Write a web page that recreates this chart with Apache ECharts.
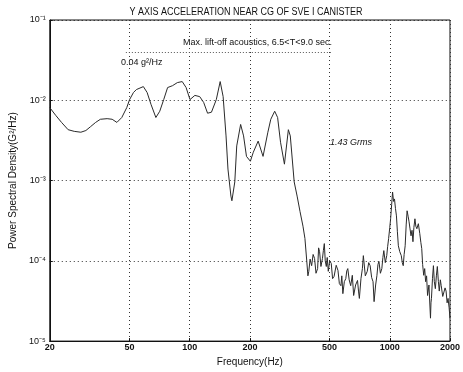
<!DOCTYPE html>
<html>
<head>
<meta charset="utf-8">
<script src="https://cdn.jsdelivr.net/npm/echarts@6/dist/echarts.min.js"></script>
<style>
html,body{margin:0;padding:0;background:#fff;}
#c{width:463px;height:372px;}
</style>
</head>
<body>
<div id="c"></div>
<script>
// Frequency (Hz) of each read-off point
const freq = [
  20, 21.4, 22.9, 24.7, 26.5, 28.6, 30.3, 32.0, 33.9, 35.8, 38.7, 41.0, 43.3, 45.8, 48.5,
  50.1, 52.4, 54.2, 58.7, 61.3, 64.1, 67.8, 70.9, 74.2, 77.6, 82.1, 86.8, 91.8, 96.0,
  100.4, 106.2, 112.3, 117.5, 122.9, 128.5, 135.9, 142.1, 147.0, 152.0, 155.4, 160.8, 162.6,
  168.1, 171.9, 179.8, 186.0, 192.3, 201.1, 208.0, 220.0, 232.7, 246.0, 254.4, 266.1, 275.2,
  284.6, 297.6, 311.4, 318.4, 333.0, 344.4, 356.2, 368.4, 376.8,
  385, 390, 394, 400, 407, 414, 421, 428, 436, 441, 446, 453, 461, 466, 471, 476, 482, 487, 493, 501,
  510, 518, 527, 540, 551, 560, 570, 576, 583, 593, 603, 610, 617, 627, 638, 650, 660, 675, 690, 698,
  705, 718, 730, 738, 755, 772, 785, 798, 812, 825, 835, 850, 863, 873, 883, 898, 913, 924, 934, 950,
  966, 976, 987, 1000, 1010, 1022, 1033, 1045, 1056, 1068, 1080, 1092, 1104, 1122, 1142, 1155, 1168,
  1180, 1194, 1208, 1221, 1235, 1249, 1263, 1277, 1292, 1306, 1320, 1336, 1350, 1366, 1390, 1413,
  1430, 1445, 1460, 1478, 1495, 1511, 1528, 1545, 1570, 1598, 1607, 1616, 1635, 1653, 1670, 1690,
  1710, 1729, 1750, 1768, 1790, 1808, 1840, 1870, 1890, 1912, 1935, 1956, 1980, 2000
];
// Power spectral density (G^2/Hz) at those frequencies
const psd = [
  0.0081, 0.0065, 0.0053, 0.0043, 0.0041, 0.0040, 0.0042, 0.0047, 0.0053, 0.0058, 0.0059, 0.0058, 0.0053, 0.0061, 0.0081,
  0.0102, 0.0125, 0.0136, 0.0148, 0.0125, 0.0089, 0.0061, 0.0073, 0.0102, 0.0144, 0.0152, 0.0166, 0.0171, 0.0144,
  0.0102, 0.0115, 0.0111, 0.0094, 0.0069, 0.0071, 0.0102, 0.0171, 0.0111, 0.0036, 0.00139, 0.00064, 0.00056,
  0.00096, 0.0027, 0.0050, 0.0036, 0.0020, 0.00174, 0.00225, 0.0031, 0.0020, 0.0040, 0.0058, 0.0073, 0.0061,
  0.0030, 0.0016, 0.0043, 0.0036, 0.00096, 0.00064, 0.00041, 0.00027, 0.00019,
  9.8e-5, 6.5e-5, 7.4e-5, 1.05e-4, 8.7e-5, 1.2e-4, 1.07e-4, 7.0e-5, 8.0e-5, 1.45e-4, 1.30e-4, 8.5e-5, 1.07e-4, 1.35e-4, 1.64e-4, 1.0e-4, 8.5e-5, 1.1e-4, 7.4e-5, 1.0e-4,
  9.3e-5, 6.0e-5, 6.4e-5, 8.8e-5, 7.6e-5, 5.2e-5, 4.9e-5, 6.5e-5, 3.9e-5, 5.5e-5, 6.0e-5, 7.5e-5, 8.0e-5, 5.8e-5, 4.9e-5, 6.6e-5, 3.7e-5, 5.0e-5, 5.7e-5, 4.2e-5,
  3.4e-5, 6.0e-5, 8.0e-5, 1.16e-4, 6.5e-5, 7.4e-5, 9.5e-5, 8.7e-5, 6.2e-5, 5.5e-5, 3.1e-5, 5.0e-5, 6.6e-5, 9.0e-5, 9.8e-5, 7.0e-5, 8.0e-5, 1.1e-4, 1.34e-4, 9.5e-5,
  1.16e-4, 1.5e-4, 1.89e-4, 2.6e-4, 3.34e-4, 5.0e-4, 7.2e-4, 5.5e-4, 5.9e-4, 4.5e-4, 3.63e-4, 2.3e-4, 1.54e-4, 1.3e-4, 1.16e-4, 9.5e-5, 8.7e-5,
  1.2e-4, 1.54e-4, 2.8e-4, 4.2e-4, 3.6e-4, 3.06e-4, 2.5e-4, 2.05e-4, 2.4e-4, 1.73e-4, 2.6e-4, 3.34e-4, 2.7e-4, 2.51e-4, 2.9e-4, 2.18e-4,
  1.7e-4, 1.42e-4, 9.0e-5, 6.6e-5, 8.0e-5, 5.5e-5, 6.5e-5, 3.7e-5, 5.0e-5, 1.93e-5, 3.0e-5, 3.4e-5, 6.0e-5, 8.7e-5, 5.5e-5, 4.5e-5,
  6.5e-5, 8.5e-5, 5.5e-5, 4.2e-5, 5.8e-5, 4.9e-5, 3.6e-5, 3.4e-5, 4.6e-5, 4.2e-5, 3.0e-5, 3.4e-5, 2.6e-5, 1.93e-5
];
const xTicks = [20, 50, 100, 200, 500, 1000, 2000];
const yTicks = [1e-5, 1e-4, 1e-3, 1e-2, 1e-1];
const yTickLabels = ['10\u207B\u2075', '10\u207B\u2074', '10\u207B\u00B3', '10\u207B\u00B2', '10\u207B\u00B9'];
const refLevel = 0.04;           // g^2/Hz reference line
const refRange = [48, 515];      // Hz span of reference line

const titleText = 'Y AXIS ACCELERATION NEAR CG OF SVE I CANISTER';
const noteText = 'Max. lift-off acoustics, 6.5<T<9.0 sec.';
const refText = '0.04 g\u00B2/Hz';
const rmsText = '1.43 Grms';

const font = '"Liberation Sans", Arial, sans-serif';
const chart = echarts.init(document.getElementById('c'));
const data = freq.map((f, i) => [f, psd[i]]);

chart.setOption({
  animation: false,
  backgroundColor: '#fff',
  grid: {left: 41, right: 11, top: 20, bottom: 29, show: true, borderColor: '#111', borderWidth: 1},
  xAxis: {
    type: 'log', logBase: 10, min: 20, max: 2000,
    name: 'Frequency(Hz)', nameLocation: 'middle', nameGap: 14,
    nameTextStyle: {fontFamily: font, fontSize: 10, color: '#111'},
    axisLine: {lineStyle: {color: '#111'}},
    axisTick: {show: true, inside: true, length: 3, customValues: xTicks, lineStyle: {color: '#111'}},
    axisLabel: {customValues: xTicks, margin: 2, fontFamily: font, fontSize: 9, color: '#111', fontWeight: 'bold',
      formatter: v => String(Math.round(v))},
    splitLine: {show: true, lineStyle: {type: [1, 3], color: '#333', width: 1}},
    minorTick: {show: false}
  },
  yAxis: {
    type: 'log', logBase: 10, min: 1e-5, max: 1e-1,
    name: 'Power Spectral Density(G\u00B2/Hz)', nameLocation: 'middle', nameGap: 27,
    nameTextStyle: {fontFamily: font, fontSize: 10, color: '#111'},
    axisLine: {lineStyle: {color: '#111'}},
    axisTick: {show: true, inside: true, length: 3, lineStyle: {color: '#111'}},
    axisLabel: {
      margin: 4, fontFamily: font, fontSize: 9, color: '#111',
      formatter: v => { const i = yTicks.findIndex(t => Math.abs(Math.log10(t) - Math.log10(v)) < 0.01); return i >= 0 ? yTickLabels[i] : ''; }
    },
    splitLine: {show: true, lineStyle: {type: [1, 3], color: '#333', width: 1}}
  },
  series: [{
    type: 'line', data: data, symbol: 'none', smooth: false,
    lineStyle: {color: '#2a2a2a', width: 1},
    markLine: {
      silent: true, symbol: 'none', label: {show: false},
      lineStyle: {type: [1, 2], color: '#555', width: 1},
      data: [[{coord: [refRange[0], refLevel]}, {coord: [refRange[1], refLevel]}]]
    }
  }],
  graphic: [
    {type: 'text', x: 246, y: 12, scaleX: 0.9,
      style: {text: titleText, font: '10px ' + font, fill: '#111', textAlign: 'center', textVerticalAlign: 'middle'}},
    {type: 'text', left: 183, top: 38, style: {text: noteText, font: '9px ' + font, fill: '#111'}},
    {type: 'text', left: 121, top: 58, style: {text: refText, font: '9px ' + font, fill: '#111'}},
    {type: 'text', left: 330, top: 138, style: {text: rmsText, font: 'italic 9px ' + font, fill: '#111'}}
  ]
});
</script>
</body>
</html>
